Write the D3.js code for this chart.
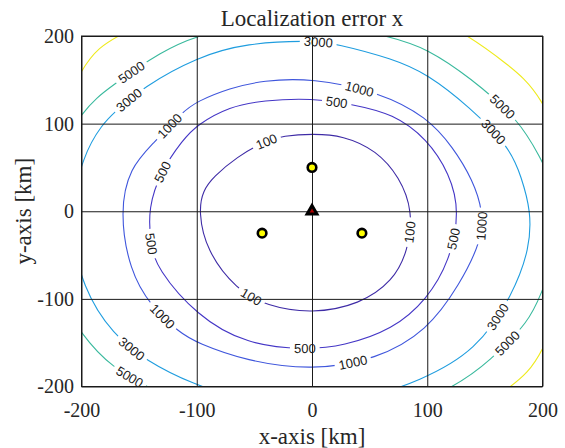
<!DOCTYPE html>
<html>
<head>
<meta charset="utf-8">
<script src="https://cdn.jsdelivr.net/npm/d3@7"></script>
<style>
  body { margin: 0; background: #fff; }
  svg { display: block; }
  .serif { font-family: "Liberation Serif", "Times New Roman", serif; fill: #262626; }
  .clabel { font-family: "Liberation Sans", Arial, sans-serif; font-size: 13px; fill: #1a1a1a; }
</style>
</head>
<body>
<div id="chart"></div>
<script>
// Data (km)
const xTicks = [-200, -100, 0, 100, 200];
const yTicks = [-200, -100, 0, 100, 200];
const levels = [100, 500, 1000, 3000, 5000, 7000];

const contour100 = [[0, 88.5], [27, 86.5], [56, 69.4], [76, 39], [87.6, 0], [83.3, -45.4], [70.3, -79.7],
  [41.4, -106.4], [0, -117], [-39.6, -108.2], [-65.6, -89.2], [-91.6, -45.4], [-98.5, 0], [-94.6, 23.7],
  [-85.6, 39], [-65.6, 61.9], [-39.6, 80.8], [-25, 86]];
const contour500 = [[0, 129.2], [35.6, 121.9], [70.3, 111.3], [99.8, 82.8], [119.5, 42.8], [128.2, 0],
  [119.5, -56.9], [99.8, -100.6], [70.3, -134.9], [26.9, -153.9], [-6, -158], [-56.9, -152], [-99.8, -119.6],
  [-135, -64.5], [-140, -38], [-142.3, 4], [-131, 46], [-112, 81.6], [-99.8, 98.7], [-71.4, 119.6], [-42.5, 126.5]];
const contour1000 = [[0, 152], [58.7, 136], [99.8, 107.5], [122.3, 73.3], [139.7, 35.2], [148.4, 0], [147, -34],
  [128.2, -83.6], [99.8, -136.8], [55.9, -169.2], [0, -181.7], [-56.9, -171], [-99.8, -150.1], [-114.8, -138.7],
  [-140, -108], [-158.2, -68.3], [-166.9, 0], [-158, 50], [-138, 77], [-112, 114], [-99.8, 125.3],
  [-71.4, 140.6], [-42.5, 149.3]];
const contour3000 = [[0, 195], [21, 191.2], [70.3, 174], [99.8, 157], [136.8, 119], [171.5, 73.3], [181.7, 39],
  [190, 0], [189, -42], [174.4, -95], [142.6, -159.6], [93.4, -193.8], [45, -215], [-8, -223], [-60, -215],
  [-103.3, -197.7], [-143.7, -171], [-172.7, -140.6], [-198.7, -89.3], [-212, -12], [-198.7, 65.6],
  [-181.3, 100], [-172.7, 111.3], [-146.6, 141.8], [-99.8, 176], [-56.9, 192]];
const contour5000 = [[-12, 222], [70.3, 199], [99.8, 185.5], [136.8, 153.2], [180.2, 103.7], [197.6, 61.9],
  [210, 30], [213, -15], [209, -60], [199, -93], [188.9, -125.3], [154.2, -171], [125.3, -200], [60, -238],
  [-12, -250], [-90, -235], [-143.7, -200], [-172.7, -178.7], [-198.7, -144.4], [-228, -80], [-237, -15],
  [-228, 50], [-198.7, 117], [-175.5, 141.8], [-129.3, 183.6], [-100, 200], [-60, 213]];
const contour7000 = [[-10, 262], [80, 240], [138.3, 198.9], [168.7, 168.4], [199, 136], [228, 40], [230, -60],
  [199, -169.2], [175.9, -199.5], [100, -262], [-10, -285], [-130, -270], [-215, -215], [-245, -100],
  [-240, 40], [-198.7, 176], [-171.2, 198.9], [-100, 245]];

const labels100 = [[-39.6, 80.8], [87.6, -24.5], [-54, -100.7]];
const labels500 = [[21.2, 124.6], [-132.1, 46.6], [-142.3, -37.9], [-6.3, -159.6], [126.7, -32.2]];
const labels1000 = [[41.4, 141.8], [-125, 99.9], [-130.7, -121.6], [35.6, -172.9], [149.8, -16.9]];
const labels3000 = [[5.2, 191.2], [-158.2, 126.5], [158.5, 92.2], [-158.2, -159.6], [164.3, -123.5]];
const labels5000 = [[-158.2, 160.7], [167.2, 122.7], [-158.2, -190], [170, -152]];
const labels7000 = [];

const sensors = [[0, 50], [-43.3, -25], [43.3, -25]];
const target = [[0, 0]];

const contourPoints = [contour100, contour500, contour1000, contour3000, contour5000, contour7000];
const contourLabels = [labels100, labels500, labels1000, labels3000, labels5000, labels7000];
const levelColors = ['#3e2ba6', '#4436c6', '#3f56dc', '#1f9ddf', '#39b99d', '#eeea1c'];

// Layout
const width = 565, height = 448;
const margin = { top: 36, right: 22.5, bottom: 61.5, left: 81.5 };
const plotW = width - margin.left - margin.right;
const plotH = height - margin.top - margin.bottom;

const svg = d3.select('#chart').append('svg')
  .attr('width', width)
  .attr('height', height);

const x = d3.scaleLinear().domain([-200, 200]).range([margin.left, margin.left + plotW]);
const y = d3.scaleLinear().domain([-200, 200]).range([margin.top + plotH, margin.top]);

const defs = svg.append('defs');
defs.append('clipPath').attr('id', 'plot-clip')
  .append('rect')
  .attr('x', margin.left).attr('y', margin.top)
  .attr('width', plotW).attr('height', plotH);

// smoothing spline through the read points
const line = d3.line()
  .x(d => x(d[0]))
  .y(d => y(d[1]))
  .curve(d3.curveBasisClosed);

// contour lines
const contourG = svg.append('g').attr('clip-path', 'url(#plot-clip)');
const paths = contourPoints.map((pts, i) => contourG.append('path')
  .attr('d', line(pts))
  .attr('fill', 'none')
  .attr('stroke', levelColors[i])
  .attr('stroke-width', 1.1)
  .attr('mask', `url(#gap-${i})`));

// grid + tick labels
const xAxis = svg.append('g')
  .attr('transform', `translate(0,${margin.top + plotH})`)
  .call(d3.axisBottom(x).tickValues(xTicks).tickFormat(d => String(d))
    .tickSizeInner(-plotH).tickSizeOuter(0).tickPadding(16.5));
const yAxis = svg.append('g')
  .attr('transform', `translate(${margin.left},0)`)
  .call(d3.axisLeft(y).tickValues(yTicks).tickFormat(d => String(d))
    .tickSizeInner(-plotW).tickSizeOuter(0).tickPadding(7.5));

[xAxis, yAxis].forEach(g => {
  g.select('.domain').remove();
  g.selectAll('line').attr('stroke', '#1a1a1a').attr('stroke-width', 1);
  g.selectAll('text')
    .attr('class', 'serif')
    .attr('font-size', 20);
});

// box
svg.append('rect')
  .attr('x', margin.left).attr('y', margin.top)
  .attr('width', plotW).attr('height', plotH)
  .attr('fill', 'none')
  .attr('stroke', '#1a1a1a')
  .attr('stroke-width', 1);

// contour labels, rotated along the line, with gaps cut in their own line
function placeLabel(node, px, py) {
  const L = node.getTotalLength();
  let best = 0, bestD = Infinity;
  for (let s = 0; s < L; s += 1) {
    const p = node.getPointAtLength(s);
    const d = (p.x - px) ** 2 + (p.y - py) ** 2;
    if (d < bestD) { bestD = d; best = s; }
  }
  const p = node.getPointAtLength(best);
  const a = node.getPointAtLength(Math.max(0, best - 5));
  const b = node.getPointAtLength(Math.min(L, best + 5));
  let ang = Math.atan2(b.y - a.y, b.x - a.x) * 180 / Math.PI;
  if (ang > 90) ang -= 180;
  if (ang < -90) ang += 180;
  return { x: p.x, y: p.y, ang };
}

const labelG = svg.append('g');
contourLabels.forEach((labs, i) => {
  const mask = defs.append('mask')
    .attr('id', `gap-${i}`)
    .attr('maskUnits', 'userSpaceOnUse')
    .attr('x', 0).attr('y', 0).attr('width', width).attr('height', height);
  mask.append('rect').attr('width', width).attr('height', height).attr('fill', '#fff');

  labs.forEach(lab => {
    const pos = placeLabel(paths[i].node(), x(lab[0]), y(lab[1]));
    const t = labelG.append('text')
      .attr('class', 'clabel')
      .attr('text-anchor', 'middle')
      .attr('dy', '0.36em')
      .attr('transform', `translate(${pos.x},${pos.y}) rotate(${pos.ang})`)
      .text(levels[i]);
    const w = t.node().getComputedTextLength() + 8;
    mask.append('rect')
      .attr('x', -w / 2).attr('y', -6.5)
      .attr('width', w).attr('height', 13)
      .attr('fill', '#000')
      .attr('transform', `translate(${pos.x},${pos.y}) rotate(${pos.ang})`);
  });
});

// sensors and target
svg.selectAll('.sensor')
  .data(sensors)
  .enter().append('circle')
  .attr('class', 'sensor')
  .attr('cx', d => x(d[0]))
  .attr('cy', d => y(d[1]))
  .attr('r', 4.3)
  .attr('fill', '#ffff00')
  .attr('stroke', '#000')
  .attr('stroke-width', 2.6);

svg.selectAll('.target')
  .data(target)
  .enter().append('path')
  .attr('class', 'target')
  .attr('transform', d => `translate(${x(d[0])},${y(d[1])})`)
  .attr('d', d3.symbol().type(d3.symbolTriangle).size(42))
  .attr('fill', '#b00000')
  .attr('stroke', '#000')
  .attr('stroke-width', 3)
  .attr('stroke-linejoin', 'miter');

// titles
svg.append('text')
  .attr('class', 'serif')
  .attr('x', x(0))
  .attr('y', 26)
  .attr('text-anchor', 'middle')
  .attr('font-size', 23)
  .text('Localization error x');

svg.append('text')
  .attr('class', 'serif')
  .attr('x', x(0))
  .attr('y', 444)
  .attr('text-anchor', 'middle')
  .attr('font-size', 23)
  .text('x-axis [km]');

svg.append('text')
  .attr('class', 'serif')
  .attr('transform', `translate(31,${y(0)}) rotate(-90)`)
  .attr('text-anchor', 'middle')
  .attr('font-size', 23)
  .text('y-axis [km]');
</script>
</body>
</html>
